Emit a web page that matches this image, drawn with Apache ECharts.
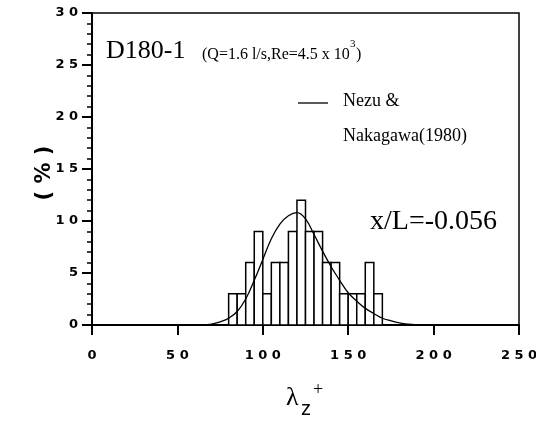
<!DOCTYPE html>
<html>
<head>
<meta charset="utf-8">
<script src="https://cdn.jsdelivr.net/npm/echarts@6/dist/echarts.min.js"></script>
<style>
  html, body { margin: 0; padding: 0; background: #fff; }
  #chart { width: 536px; height: 421px; }
</style>
</head>
<body>
<div id="chart"></div>
<script>
// Histogram of spanwise streak spacing (bin left edges, bin width 5)
const binStart = [80, 85, 90, 95, 100, 105, 110, 115, 120, 125, 130, 135, 140, 145, 150, 155, 160, 165];
const binPct   = [3, 3, 6, 9, 3, 6, 6, 9, 12, 9, 9, 6, 6, 3, 3, 3, 6, 3];
const binWidth = 5;

// Nezu & Nakagawa (1980) distribution curve
const curveX = [65, 70, 75, 80, 85, 90, 95, 100, 105, 110, 115, 120, 125, 130, 135, 140, 145, 150, 155, 160, 165, 170, 175, 180, 185, 190, 195];
const curveY = [0, 0.08, 0.3, 0.65, 1.3, 2.5, 4.3, 6.3, 8.3, 9.7, 10.5, 10.8, 10.2, 8.7, 7.1, 5.6, 4.3, 3.1, 2.3, 1.6, 1.1, 0.65, 0.4, 0.2, 0.08, 0.02, 0];

// Axis ranges and ticks
const xTicks = [0, 50, 100, 150, 200, 250];
const yTicks = [0, 5, 10, 15, 20, 25, 30];

const spaced = v => String(v).split('').join(' ');
const serif = '"Liberation Serif", "Times New Roman", serif';
const sans = '"Liberation Sans", Arial, sans-serif';
const wide = '"DejaVu Sans", Verdana, sans-serif';

const chart = echarts.init(document.getElementById('chart'), null, { renderer: 'canvas' });

const histData = binStart.map((s, i) => [s, s + binWidth, binPct[i]]);
const curveData = curveX.map((x, i) => [x, curveY[i]]);

chart.setOption({
  backgroundColor: '#fff',
  animation: false,
  grid: {
    left: 92, right: 17, top: 13, bottom: 96,
    outerBoundsMode: 'none',
    containLabel: false,
    show: true, borderColor: '#000', borderWidth: 1.5, backgroundColor: 'transparent'
  },
  xAxis: {
    type: 'value',
    min: xTicks[0], max: xTicks[xTicks.length - 1], interval: 50,
    axisLine: { show: true, onZero: false, lineStyle: { color: '#000', width: 2 } },
    axisTick: { show: true, length: 10, lineStyle: { color: '#000', width: 2 } },
    splitLine: { show: false },
    axisLabel: {
      margin: 24, color: '#000', fontFamily: wide, fontWeight: 'bold', fontSize: 13,
      formatter: v => spaced(v)
    }
  },
  yAxis: {
    type: 'value',
    min: yTicks[0], max: yTicks[yTicks.length - 1], interval: 5,
    axisLine: { show: true, onZero: false, lineStyle: { color: '#000', width: 2 } },
    axisTick: { show: true, length: 10, lineStyle: { color: '#000', width: 2 } },
    minorTick: { show: true, splitNumber: 5, length: 5, lineStyle: { color: '#000', width: 1.5 } },
    splitLine: { show: false },
    axisLabel: {
      margin: 14, color: '#000', fontFamily: wide, fontWeight: 'bold', fontSize: 13,
      formatter: v => spaced(v)
    }
  },
  series: [
    {
      type: 'custom',
      name: 'histogram',
      data: histData,
      encode: { x: [0, 1], y: 2 },
      renderItem: (params, api) => {
        const p0 = api.coord([api.value(0), api.value(2)]);
        const p1 = api.coord([api.value(1), 0]);
        return {
          type: 'rect',
          shape: { x: p0[0], y: p0[1], width: p1[0] - p0[0], height: p1[1] - p0[1] },
          style: { fill: '#fff', stroke: '#000', lineWidth: 1.5 }
        };
      },
      z: 2
    },
    {
      type: 'line',
      name: 'Nezu & Nakagawa(1980)',
      data: curveData,
      smooth: 0.4,
      showSymbol: false,
      lineStyle: { color: '#000', width: 1.3 },
      z: 3
    }
  ],
  graphic: [
    // y-axis title
    { type: 'text', x: 45, y: 173, rotation: Math.PI / 2, style: { text: '( % )', font: 'bold 21px ' + wide, fill: '#000', align: 'center', verticalAlign: 'middle' }, z: 10 },
    { type: 'text', x: 106, y: 51, style: { text: 'D180-1', font: '26px ' + serif, fill: '#000', verticalAlign: 'middle' }, z: 10 },
    { type: 'text', x: 202, y: 54.5, style: { text: '(Q=1.6 l/s,Re=4.5 x 10', font: '16px ' + serif, fill: '#000', align: 'left', verticalAlign: 'middle' }, z: 10 },
    { type: 'text', x: 350, y: 44, style: { text: '3', font: '11px ' + serif, fill: '#000', align: 'left', verticalAlign: 'middle' }, z: 10 },
    { type: 'text', x: 356, y: 54.5, style: { text: ')', font: '16px ' + serif, fill: '#000', align: 'left', verticalAlign: 'middle' }, z: 10 },
    { type: 'line', shape: { x1: 298, y1: 103, x2: 328, y2: 103 }, style: { stroke: '#000', lineWidth: 1.3 }, z: 10 },
    { type: 'text', x: 343, y: 101.5, style: { text: 'Nezu &', font: '18px ' + serif, fill: '#000', verticalAlign: 'middle' }, z: 10 },
    { type: 'text', x: 343, y: 136.5, style: { text: 'Nakagawa(1980)', font: '18px ' + serif, fill: '#000', verticalAlign: 'middle' }, z: 10 },
    { type: 'text', x: 370, y: 222, style: { text: 'x/L=-0.056', font: '28px ' + serif, fill: '#000', verticalAlign: 'middle' }, z: 10 },
    // x-axis title
    { type: 'text', x: 286, y: 398, style: { text: 'λ', font: '26px ' + serif, fill: '#000', verticalAlign: 'middle' }, z: 10 },
    { type: 'text', x: 301, y: 409, style: { text: 'z', font: '20px ' + sans, fill: '#000', verticalAlign: 'middle' }, z: 10 },
    { type: 'text', x: 313, y: 390, style: { text: '+', font: '18px ' + serif, fill: '#000', verticalAlign: 'middle' }, z: 10 }
  ]
});
</script>
</body>
</html>
